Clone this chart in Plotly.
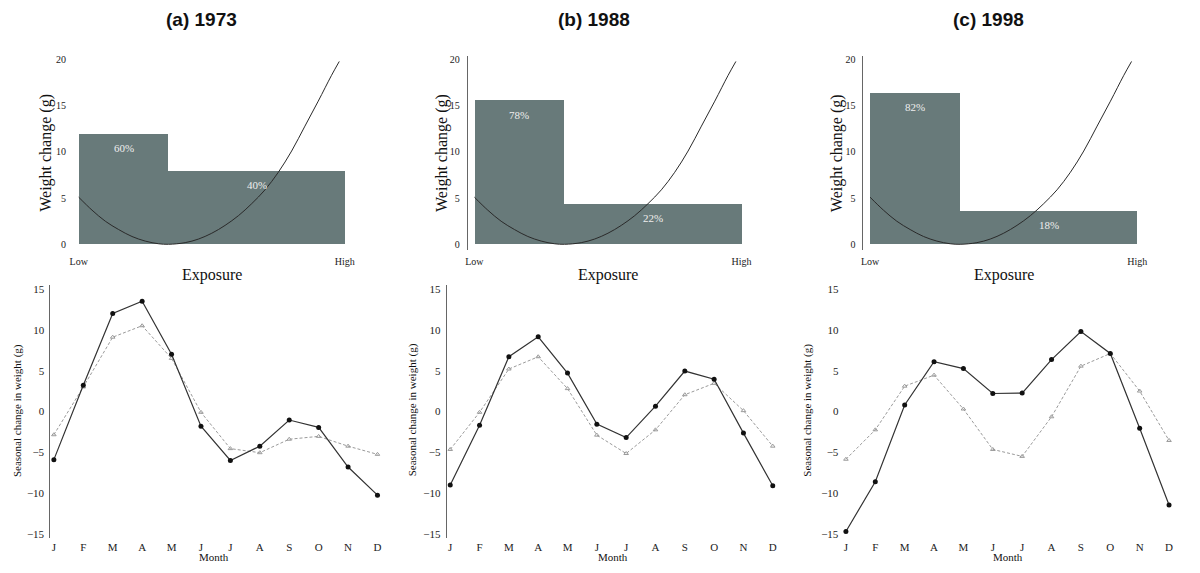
import plotly.graph_objects as go

# ---------------- data ----------------
panel_titles = ["(a) 1973", "(b) 1988", "(c) 1998"]
months = ["J", "F", "M", "A", "M", "J", "J", "A", "S", "O", "N", "D"]

# top panels: two exposure classes (low / high) as share of population
split_points = [0.337, 0.336, 0.34]
low_pct = [60, 78, 82]
high_pct = [40, 22, 18]
low_height = [12.0, 15.6, 16.4]
high_height = [8.0, 4.4, 3.6]

# curve (weight change vs exposure)
curve_x = [0, 0.05, 0.1, 0.15, 0.2, 0.25, 0.3, 0.337, 0.4, 0.45, 0.5, 0.55,
           0.6, 0.65, 0.7, 0.75, 0.8, 0.85, 0.9, 0.95, 0.979]
curve_y = [5.1, 3.7, 2.5, 1.6, 0.85, 0.35, 0.06, 0.0, 0.18, 0.57, 1.2, 2.05,
           3.1, 4.4, 5.9, 7.8, 10.1, 12.8, 15.5, 18.3, 19.8]

# bottom panels: seasonal change in weight (g)
solid_1973 = [-5.9, 3.2, 12.0, 13.5, 7.0, -1.8, -6.0, -4.25, -1.05, -1.95, -6.8, -10.25]
dashed_1973 = [-2.85, 3.0, 9.1, 10.5, 6.5, -0.1, -4.55, -5.05, -3.4, -3.05, -4.25, -5.25]
solid_1988 = [-9.0, -1.7, 6.7, 9.15, 4.7, -1.55, -3.2, 0.65, 4.95, 3.95, -2.65, -9.1]
dashed_1988 = [-4.65, -0.1, 5.2, 6.7, 2.8, -2.9, -5.15, -2.25, 2.05, 3.45, 0.1, -4.25]
solid_1998 = [-14.7, -8.6, 0.8, 6.1, 5.25, 2.2, 2.25, 6.35, 9.8, 7.1, -2.05, -11.45]
dashed_1998 = [-5.85, -2.25, 3.1, 4.45, 0.3, -4.65, -5.5, -0.65, 5.55, 7.1, 2.5, -3.55]

solid_series = [solid_1973, solid_1988, solid_1998]
dashed_series = [dashed_1973, dashed_1988, dashed_1998]

top_yticks = [0, 5, 10, 15, 20]
bottom_yticks = [-15, -10, -5, 0, 5, 10, 15]

# ---------------- layout helpers ----------------
W, H = 1200, 573
SERIF = "Liberation Serif"
BAR_COLOR = "#687a7a"


def px_x(p):
    return p / W


def px_y(p):
    return 1 - p / H


top_xdom = [(70.3, 352.0), (467.3, 750.0), (864.3, 1147.0)]
top_ydom = (249.6, 54.3)
bot_xdom = [(48.5, 379.7), (446.2, 776.3), (843.2, 1173.9)]
bot_ydom = (539.8, 284.9)

top_yline = [False, True, True]
bot_yline = [True, True, False]

fig = go.Figure()
layout = {}
annotations = []

for i in range(3):
    tx = f"x{2*i+1}" if 2 * i + 1 > 1 else "x"
    ty = f"y{2*i+1}" if 2 * i + 1 > 1 else "y"
    bx = f"x{2*i+2}"
    by = f"y{2*i+2}"
    txk = "xaxis" if i == 0 else f"xaxis{2*i+1}"
    tyk = "yaxis" if i == 0 else f"yaxis{2*i+1}"
    bxk = f"xaxis{2*i+2}"
    byk = f"yaxis{2*i+2}"

    s = split_points[i]
    fig.add_trace(go.Bar(
        x=[s / 2, (1 + s) / 2],
        y=[low_height[i], high_height[i]],
        width=[s, 1 - s],
        marker=dict(color=BAR_COLOR, line=dict(width=0)),
        xaxis=tx, yaxis=ty, showlegend=False, hoverinfo="skip",
    ))
    fig.add_trace(go.Scatter(
        x=curve_x, y=curve_y, mode="lines", line=dict(color="#2a2a2a", width=1, shape="spline"),
        xaxis=tx, yaxis=ty, showlegend=False, hoverinfo="skip",
    ))
    for cx, h, pct in [(s / 2, low_height[i], low_pct[i]),
                       ((1 + s) / 2, high_height[i], high_pct[i])]:
        annotations.append(dict(
            x=cx, y=h - 1.55, xref=tx, yref=ty, text=f"{pct}%", showarrow=False,
            font=dict(family=SERIF, size=11, color="#eeeeee"),
            xanchor="center", yanchor="middle",
        ))

    fig.add_trace(go.Scatter(
        x=list(range(12)), y=dashed_series[i], mode="lines+markers",
        line=dict(color="#9a9a9a", width=1, dash="3px,2px"),
        marker=dict(symbol="triangle-up-open", size=4, color="#9a9a9a", line=dict(width=1)),
        xaxis=bx, yaxis=by, showlegend=False, hoverinfo="skip",
    ))
    fig.add_trace(go.Scatter(
        x=list(range(12)), y=solid_series[i], mode="lines+markers",
        line=dict(color="#333333", width=1.2),
        marker=dict(symbol="circle", size=5, color="#111111"),
        xaxis=bx, yaxis=by, showlegend=False, hoverinfo="skip",
    ))

    layout[txk] = dict(
        domain=[px_x(top_xdom[i][0]), px_x(top_xdom[i][1])], range=[-0.025, 1.03],
        anchor=ty, tickvals=[0, 1], ticktext=["Low", "High"], showgrid=False,
        zeroline=False, showline=False, ticks="", ticklabelstandoff=4,
        tickfont=dict(family=SERIF, size=10, color="#222"),
    )
    layout[tyk] = dict(
        domain=[px_y(top_ydom[0]), px_y(top_ydom[1])], range=[-0.6, 20.4],
        anchor=tx, tickvals=top_yticks, showgrid=False, zeroline=False,
        showline=top_yline[i], linecolor="#666", linewidth=1, ticks="",
        ticklabelstandoff=5, tickfont=dict(family=SERIF, size=10, color="#222"),
    )
    layout[bxk] = dict(
        domain=[px_x(bot_xdom[i][0]), px_x(bot_xdom[i][1])], range=[-0.12, 11.1],
        anchor=by, tickvals=list(range(12)), ticktext=months, showgrid=False,
        zeroline=False, showline=False, ticks="", ticklabelstandoff=1,
        tickfont=dict(family=SERIF, size=11, color="#222"),
    )
    layout[byk] = dict(
        domain=[px_y(bot_ydom[0]), px_y(bot_ydom[1])], range=[-15.5, 15.5],
        anchor=bx, tickvals=bottom_yticks, showgrid=False, zeroline=False,
        showline=bot_yline[i], linecolor="#666", linewidth=1, ticks="",
        ticklabelstandoff=3, tickfont=dict(family=SERIF, size=11, color="#222"),
    )

# titles and axis titles
title_x = [200, 594, 990]
wc_x = [44, 441.5, 838]
exp_x = [210.7, 608, 1005]
sc_x = [15, 411.5, 808.3]
month_x = [213, 613, 1009]
for i in range(3):
    annotations.append(dict(x=px_x(title_x[i]), y=px_y(18), xref="paper", yref="paper",
                            text=f"<b>{panel_titles[i]}</b>", showarrow=False,
                            font=dict(family="Liberation Sans", size=19, color="#111"),
                            xanchor="center", yanchor="middle"))
    annotations.append(dict(x=px_x(wc_x[i]), y=px_y(152), xref="paper", yref="paper",
                            text="Weight change (g)", showarrow=False, textangle=-90,
                            font=dict(family=SERIF, size=16, color="#111"),
                            xanchor="center", yanchor="middle"))
    annotations.append(dict(x=px_x(exp_x[i]), y=px_y(275), xref="paper", yref="paper",
                            text="Exposure", showarrow=False,
                            font=dict(family=SERIF, size=16, color="#111"),
                            xanchor="center", yanchor="middle"))
    annotations.append(dict(x=px_x(sc_x[i]), y=px_y(411), xref="paper", yref="paper",
                            text="Seasonal change in weight (g)", showarrow=False, textangle=-90,
                            font=dict(family=SERIF, size=11, color="#111"),
                            xanchor="center", yanchor="middle"))
    annotations.append(dict(x=px_x(month_x[i]), y=px_y(559), xref="paper", yref="paper",
                            text="Month", showarrow=False,
                            font=dict(family=SERIF, size=11, color="#111"),
                            xanchor="center", yanchor="middle"))

fig.update_layout(
    width=W, height=H,
    margin=dict(l=0, r=0, t=0, b=0),
    paper_bgcolor="white", plot_bgcolor="white",
    showlegend=False, bargap=0,
    annotations=annotations,
    **layout,
)

fig.write_html("out.html", config={"displayModeBar": False},
               post_script="document.body.style.margin='0px';")
